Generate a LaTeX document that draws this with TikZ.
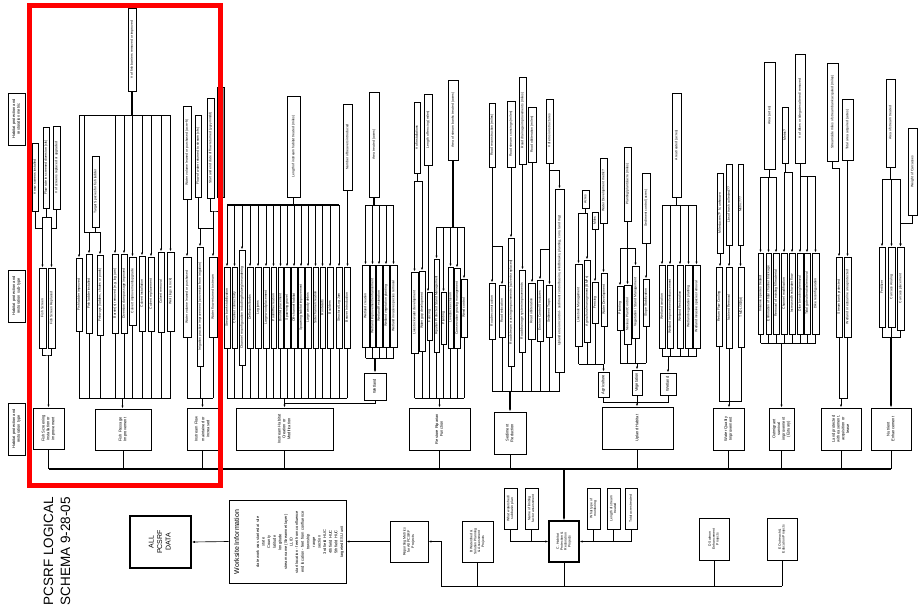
\documentclass[tikz,border=0pt]{standalone}
\usepackage{graphicx}
\usepackage{fontspec}
\setmainfont{Liberation Sans}
\usetikzlibrary{arrows.meta}

\newcommand{\vt}[1]{\rotatebox{90}{\begin{tabular}{@{}c@{}}#1\end{tabular}}}
\newcommand{\bx}[7][]{%
  \node[bx,minimum width={#5-#3},minimum height={#6-#4},#1] (#2)
    at ({(#3+#5)/2},{(#4+#6)/2}) {\vt{#7}};}

\tikzset{
  bx/.style={draw, line width=0.9pt, inner sep=0pt, fill=white,
    font=\fontsize{3.4}{3.9}\selectfont},
  typ/.style={font=\fontsize{4}{4.8}\selectfont},
  arr/.style={-{Latex[length=3pt,width=2.2pt]}},
  fat/.style={line width=1.3pt},
}

\begin{document}
\begin{tikzpicture}[x=1pt,y=-1pt,line width=0.65pt]
\useasboundingbox (0,0) rectangle (924,614);

% row captions
\bx[typ]{lMet}{8}{93}{25}{145}{Habitat protection and\\restoration metric}
\bx[typ]{lSub}{8}{270}{25}{322}{Habitat protection and\\restoration sub-type}
\bx[typ]{lTyp}{8}{403}{25}{455}{Habitat protection and\\restoration type}

% type level
\bx[typ]{tFS}{33}{408}{64}{449}{Fish Screening\\installation or\\improvement}
\bx[typ]{tFP}{95}{409}{151}{450}{Fish Passage\\Improvement}
\bx[typ]{tIF}{187}{408}{218}{450}{Instream Flow\\[2pt]maintained or\\increased}
\bx[typ]{tIH}{236}{408}{333}{450}{Instream Habitat\\Creation or\\Modification}
\bx[typ]{tRF}{409}{408}{470}{450}{Restore Riparian\\Function}
\bx[typ]{tSR}{494}{412}{526}{454}{Sediment\\Reduction}
\bx[typ]{tUH}{602}{407}{673}{449}{Upland Habitat}
\bx[typ]{tWQ}{713}{408}{744}{450}{Water Quality\\Improvement}
\bx[typ]{tOS}{769}{408}{794}{450}{Outmigrant\\survival\\improvement\\(Estuary)}
\bx[typ]{tLP}{821}{408}{861}{450}{Land protected\\with easement,\\acquisition or\\lease}
\bx[typ]{tNE}{871}{408}{911}{450}{Nutrient\\Enhancement}

\coordinate (bus) at (48.5,469);
\draw[fat] (bus) -- (bus -| tNE.south);
\foreach \n in {tFS,tFP,tIF,tIH,tRF,tSR,tUH,tWQ,tOS,tLP,tNE}
  \draw (\n.south) -- (\n.south |- bus);

% project level
\bx{boxB}{462}{521}{493}{562}{B Watershed \&\\Solution Planning\\\& Assessment\\Projects}
\bx[fat]{boxC}{549}{521}{579}{562}{C. Habitat\\Protection \&\\Restoration\\Projects}
\bx{boxD}{699}{518}{729}{560}{D Salmon\\Enhancement\\Projects}
\bx{boxE}{767}{518}{797}{560}{E Outreach \&\\Education Projects}
\bx{cA}{504}{488}{517}{529}{What watershed/\\subbasin plan}
\bx{cB}{525}{488}{538}{529}{Name of limiting\\factor assessment}
\bx{cC}{587}{488}{600}{529}{What type of\\monitoring}
\bx{cD}{607}{488}{620}{529}{Length of stream\\treated}
\bx{cE}{625}{488}{637}{529}{Total acres treated}
\draw[arr,fat] (bus -| boxC.north) -- (boxC.north);
\draw[arr] (cA.south) |- (boxC.west);
\draw (cB.south) -- (cB.south |- boxC.west);
\draw[arr] (cE.south) |- (boxC.east);
\draw (cC.south) -- (cC.south |- boxC.east);
\draw (cD.south) -- (cD.south |- boxC.east);
\coordinate (pB) at (441,586);
\draw (pB) -- (pB -| boxE.south);
\foreach \n in {boxB,boxC,boxD,boxE} \draw (\n.south) -- (\n.south |- pB);

\bx[font=\fontsize{3.6}{4.2}\selectfont]{rep}{390}{521}{428}{562}{Reporting Metrics\\for All PCSRF\\Projects}
\draw[arr] (pB) |- (rep.east);
\node[bx, minimum width=117, minimum height=83] (wk) at (287.5,541.5) {};
\node[rotate=90, font=\fontsize{7}{8}\selectfont] (wkT) at (236.5,542) {Worksite Information};
\node[rotate=90, align=center, font=\fontsize{4}{5.6}\selectfont] (wkL) at (300,542)
  {date work was started at site\\state\\County\\latitude\\longitude\\stream name (Streamnet layer)\\LLID\\start location - feet from confluence\\end location - feet from confluence\\township\\range\\section\\3rd field HUC\\4th field HUC\\5th field HUC\\targeted ESU unit};
\draw[arr] (rep.west) -- (wk.east);
\bx[line width=1.6pt, font=\fontsize{7}{8.5}\selectfont]{all}{130}{516}{191}{568}{ALL\\PCSRF\\DATA}
\draw[arr] (wk.west) -- (all.east);
\node[rotate=90, align=left, font=\fontsize{13.5}{17}\selectfont] (ttl) at (57,551) {PCSRF LOGICAL\\SCHEMA 9-28-05};

% fish screening
\bx{mFS1}{32}{143}{38}{211}{\# new screens installed}
\bx{mFS2}{43}{127}{49}{208}{Flow rate in screened diversion (cfs)}
\bx{mFS3}{53}{126}{60}{209}{\# of screens replaced or upgraded}
\bx{sFS1}{39}{268}{46}{348}{Fish Screen}
\bx{sFS2}{48}{268}{55}{348}{Fish Screen Replaced}
\coordinate (kFS) at (42.5,228);
\coordinate (kFSb) at (51.5,217);
\coordinate (jFS) at (48.5,355);
\draw (mFS1.south) |- (kFS);
\draw (mFS2.south) |- (kFSb);
\draw (mFS2.south |- kFSb) -- (kFSb -| kFS);
\draw (mFS3.south) |- (kFS -| kFSb);
\draw[arr] (kFSb -| kFS) -- (sFS1.north);
\draw[arr] (kFSb) -- (sFS2.north);
\draw (sFS1.south) |- (jFS) -| (sFS2.south);
\draw[arr] (jFS) -- (tFS.north);

% fish passage
\bx{mFP}{128}{8}{136}{91}{\# of fish barriers removed or improved}
\bx{mFPt}{92}{156}{99}{227}{Target Species for fish ladder}
\bx{sFP1}{76}{258}{82}{331}{Fish ladder improved}
\bx{sFP2}{86}{254}{92}{333}{Fish ladder installed}
\bx{sFP3}{97}{255}{103}{335}{Fishways (ladders, chutes or pools)}
\bx{sFP4}{112}{254}{118}{333}{Barrier(s) removed (e.g. log jam)}
\bx{sFP5}{121}{254}{127}{333}{Diversion dam passage improved}
\bx{sFP6}{129}{257}{136}{325}{Culvert improvement/upgrade}
\bx{sFP7}{139}{256}{145}{331}{Culvert installation}
\bx{sFP8}{148}{257}{154}{331}{Culvert replacement}
\bx{sFP9}{158}{252}{164}{332}{Culvert removal}
\bx{sFP10}{167}{252}{174}{331}{Weir (logs \& rock)}
\coordinate (kFP) at (79,115);
\coordinate (kFPt) at (84,232);
\draw[fat] (mFP.south) -- (mFP.south |- kFP);
\draw (kFP) -- (kFP -| sFP10.north);
\foreach \i in {1,4,5,6,7,8,9,10} \draw[arr] (kFP -| sFP\i.north) -- (sFP\i.north);
\draw[arr] (kFP -| kFPt) -- (kFPt) -| (sFP3.north);
\draw[arr] (kFPt -| sFP2.north) -- (sFP2.north);
\draw (mFPt.south) -- (mFPt.south |- kFPt);
\coordinate (jFP) at (122.5,398);
\foreach \i in {1,...,10} \draw (sFP\i.south) -- (sFP\i.south |- jFP);
\draw (sFP1.south |- jFP) -- (sFP10.south |- jFP);
\draw[arr] (jFP) -- (jFP |- tFP.north);

% instream flow
\bx{mIF1}{183}{106}{191}{199}{Water volume leased or purchased (acre-ft)}
\bx{mIF2}{195}{115}{201}{197}{Flow of water returned to stream (cfs)}
\bx{mIF3}{207}{98}{214}{198}{Start and end date of flow returned (yyyymmdd)}
\node[bx, fill=black!45, minimum width=7, minimum height=110] (mIF4) at (220.5,142) {};
\bx{sIF1}{183}{257}{191}{337}{Water volume leased or purchased}
\bx{sIF2}{197}{247}{203}{366}{Irrigation practice improvement (conversion from irrigation)}
\bx{sIF3}{209}{257}{217}{337}{Water flow returned to stream}
\draw[arr] (mIF1.south) -- (sIF1.north);
\coordinate (kIF) at (200,228);
\coordinate (kIF2) at (213,211);
\draw (mIF2.south) |- (kIF);
\draw[arr] (kIF) -- (sIF2.north);
\draw[arr] (kIF) -| (sIF3.north);
\draw (mIF3.south) |- (kIF2) -| (mIF4.south);
\draw (kIF2) -- (kIF2 |- kIF);
\coordinate (jIF) at (202.5,398);
\foreach \i in {1,2,3} \draw (sIF\i.south) -- (sIF\i.south |- jIF);
\draw (sIF1.south |- jIF) -- (sIF3.south |- jIF);
\draw[arr] (jIF) -- (tIF.north);

% instream habitat
\bx{mIH}{287}{96}{300}{197}{Length of instream habitat treated (miles)}
\bx{mIHb}{343}{104}{352}{190}{Number of beavers introduced}
\bx{sIH1}{224}{267}{230}{348}{Stream bank stabilization}
\bx{sIH2}{232}{267}{237}{348}{Channel connectivity}
\bx{sIH3}{239}{250}{245}{365}{Channel reconfiguration including thalweg/meandering}
\bx{sIH4}{247}{267}{253}{348}{Deflectors/barbs}
\bx{sIH5}{255}{267}{261}{348}{Log jams}
\bx{sIH6}{263}{267}{269}{348}{Large wood placement}
\bx{sIH7}{271}{267}{276}{348}{Pool/riffle creation}
\bx{sIH8}{278}{267}{283}{348}{Boulder placement}
\bx{sIH9}{284}{267}{290}{348}{Spawning gravel}
\bx{sIH10}{291}{267}{297}{348}{Off-channel habitat}
\bx{sIH11}{298}{267}{304}{348}{Spawning habitat improvement}
\bx{sIH12}{305}{267}{311}{348}{Large woody debris}
\bx{sIH13}{313}{267}{318}{348}{Side channel creation}
\bx{sIH14}{320}{267}{325}{348}{Rootwads}
\bx{sIH15}{327}{267}{333}{348}{Boulders}
\bx{sIH16}{336}{267}{342}{348}{Structural Log Jam}
\bx{sIH17}{344}{267}{350}{348}{Beaver Introduction}
\coordinate (kIH) at (293.5,205);
\draw[fat] (mIH.south) -- (kIH);
\draw[fat] (kIH -| sIH1.north) -- (kIH -| sIH16.north);
\foreach \i in {1,...,16} \draw[arr] (kIH -| sIH\i.north) -- (sIH\i.north);
\draw[arr] (mIHb.south) -- (mIHb.south |- sIH17.north);
\coordinate (jIH) at (284.5,398);
\coordinate (jIHw) at (284.5,403);
\foreach \i in {1,...,17} \draw (sIH\i.south) -- (sIH\i.south |- jIH);
\draw (sIH1.south |- jIH) -- (sIH17.south |- jIH);
\draw[arr,fat] (jIH) -- (tIH.north);

% wetland (instream)
\bx{mIW}{369}{92}{379}{197}{Area treated (acres)}
\bx{sIW1}{362}{265}{369}{347}{Wetland creation}
\bx{sIW2}{370}{265}{375}{347}{Wetland improvement/enhancement}
\bx{sIW3}{376}{265}{382}{347}{Wetland Restoration}
\bx{sIW4}{383}{265}{389}{347}{Wetland vegetation planting}
\bx{sIW5}{390}{265}{397}{347}{Wetland invasive species removal}
\bx[typ]{wIH}{364}{373}{386}{400}{Wetland}
\coordinate (kIW) at (374,205);
\draw[fat] (mIW.south) -- (kIW);
\draw (kIW -| sIW1.north) -- (kIW -| sIW5.north);
\foreach \i in {1,...,5} \draw[arr] (kIW -| sIW\i.north) -- (sIW\i.north);
\coordinate (jIW) at (375,358);
\foreach \i in {1,...,5} \draw (sIW\i.south) -- (sIW\i.south |- jIW);
\draw (sIW1.south |- jIW) -- (sIW5.south |- jIW);
\draw[arr,fat] (jIW) -- (wIH.north);
\draw (wIH.south) |- (jIHw);

% riparian function
\bx{mRF1}{414}{102}{420}{173}{\# of installations}
\bx{mRF2}{424}{94}{432}{165}{Length of fencing (miles)}
\bx{mRF3}{448}{80}{458}{160}{Area of stream banks treated (acres)}
\bx{sRF1}{411}{272}{418}{353}{Livestock water development}
\bx{sRF2}{419}{271}{425}{351}{Water gap development}
\bx{sRF3}{427}{292}{432}{340}{Fencing}
\bx{sRF4}{434}{259}{439}{352}{Riparian Protected Stand Management}
\bx{sRF5}{441}{292}{446}{344}{Planting}
\bx{sRF6}{448}{267}{453}{348}{Livestock exclusion}
\bx{sRF7}{454}{268}{460}{348}{Conservation grazing management}
\bx{sRF8}{461}{279}{467}{337}{Weed control}
\coordinate (kRF1) at (417,181);
\coordinate (kRF3) at (453,227);
\draw (mRF1.south) -- (kRF1);
\draw (kRF1 -| sRF1.north) -- (kRF1 -| sRF2.north);
\foreach \i in {1,2} \draw[arr] (kRF1 -| sRF\i.north) -- (sRF\i.north);
\draw[arr] (mRF2.south) -- (mRF2.south |- sRF3.north);
\draw[fat] (mRF3.south) -- (kRF3);
\draw (kRF3 -| sRF4.north) -- (kRF3 -| sRF8.north);
\foreach \i in {4,...,8} \draw[arr] (kRF3 -| sRF\i.north) -- (sRF\i.north);
\coordinate (jRF) at (439.5,398);
\foreach \i in {1,...,8} \draw (sRF\i.south) -- (sRF\i.south |- jRF);
\draw (sRF1.south |- jRF) -- (sRF8.south |- jRF);
\draw[arr] (jRF) -- (tRF.north);

% sediment reduction
\bx{mSR1}{489}{103}{495}{167}{Road reconstruction (miles)}
\bx{mSR2}{507}{101}{515}{167}{Road stream crossings (miles)}
\bx{mSR3}{519}{77}{526}{164}{Road drainage improvements (miles)}
\bx{mSR4}{528}{107}{536}{162}{Road obliteration (miles)}
\bx{mSR5}{546}{99}{553}{163}{\# of erosion structures}
\bx{sSR1}{489}{283}{495}{339}{Road reconstruction}
\bx{sSR2}{499}{285}{505}{337}{Road relocation}
\bx{sSR3}{508}{238}{514}{366}{Road stream crossing improvements (culverts replaced)}
\bx{sSR4}{519}{270}{525}{352}{Road drainage system improvements}
\bx{sSR5}{528}{283}{535}{339}{Road obliteration}
\bx{sSR6}{537}{280}{543}{341}{Erosion Control Structures}
\bx{sSR7}{546}{285}{552}{337}{Sediment Traps}
\bx{sSR8}{555}{189}{564}{372}{Upland erosion control - sediment control basins, windbreaks, planting, cons. land mgt.}
\coordinate (kSR1) at (492,246);
\coordinate (kSR5) at (549.5,249);
\draw (mSR1.south) -- (kSR1);
\draw[arr] (kSR1) -- (sSR1.north);
\draw[arr] (kSR1) -| (sSR2.north);
\draw[arr] (mSR2.south) -- (mSR2.south |- sSR3.north);
\draw[arr] (mSR3.south) -- (mSR3.south |- sSR4.north);
\draw[arr] (mSR4.south) -- (mSR4.south |- sSR5.north);
\draw (mSR5.south) -- (kSR5);
\draw[arr] (kSR5) -- (kSR5 |- sSR7.north);
\draw[arr] (kSR5) -| (sSR6.north);
\draw[arr] (mSR5.south) -- ++(0,7) -| (sSR8.north);
\coordinate (jSR) at (510,391);
\foreach \i in {1,...,8} \draw (sSR\i.south) -- (sSR\i.south |- jSR);
\draw (sSR1.south |- jSR) -- (sSR8.south |- jSR);
\draw[arr,fat] (jSR) -- (tSR.north);

% upland: agriculture
\bx{mUA1}{582}{190}{589}{208}{Acres}
\bx{mUA2}{592}{212}{598}{229}{Miles}
\bx{mUA3}{600}{158}{607}{223}{Water Development metric?}
\bx{sUA1}{575}{264}{582}{346}{Livestock Management}
\bx{sUA2}{584}{260}{590}{342}{Agricultural management (BMPs)}
\bx{sUA3}{592}{282}{598}{323}{Fencing}
\bx{sUA4}{601}{273}{607}{326}{Water Development}
\bx[typ]{aUA}{598}{372}{609}{397}{Agriculture}
\coordinate (kUA) at (585.5,213);
\draw (mUA1.south) -- (kUA);
\draw (kUA -| sUA1.north) -- (kUA -| sUA2.north);
\foreach \i in {1,2} \draw[arr] (kUA -| sUA\i.north) -- (sUA\i.north);
\draw[arr] (mUA2.south) -- (sUA3.north);
\draw[arr] (mUA3.south) -- (mUA3.south |- sUA4.north);
\coordinate (jUA) at (603.5,364);
\foreach \i in {1,...,4} \draw (sUA\i.south) -- (sUA\i.south |- jUA);
\draw (sUA1.south |- jUA) -- (sUA4.south |- jUA);
\draw[arr] (jUA) -- (aUA.north);

% upland: vegetation
\bx{mUV1}{624}{147}{631}{221}{Planting/plants/acre (miles)}
\bx{mUV2}{642}{173}{650}{243}{Sediment control (acres)}
\bx{sUV1}{617}{286}{623}{330}{Planting}
\bx{sUV2}{624}{285}{631}{344}{Noxious Plant Control}
\bx{sUV3}{632}{266}{639}{338}{Vegetation / Stand Management}
\bx{sUV4}{643}{279}{649}{326}{Slope Stabilization}
\bx[typ]{aUV}{632}{370}{642}{395}{Vegetation}
\coordinate (kUV) at (627.5,248);
\draw[fat] (mUV1.south) -- (kUV);
\draw (kUV -| sUV1.north) -- (kUV -| sUV3.north);
\foreach \i in {1,2,3} \draw[arr] (kUV -| sUV\i.north) -- (sUV\i.north);
\draw[arr] (mUV2.south) -- (mUV2.south |- sUV4.north);
\coordinate (jUV) at (637,363);
\foreach \i in {1,...,4} \draw (sUV\i.south) -- (sUV\i.south |- jUV);
\draw (sUV1.south |- jUV) -- (sUV4.south |- jUV);
\draw[arr] (jUV) -- (aUV.north);

% upland: wetland
\bx{mUW}{672}{93}{681}{197}{Area treated (acres)}
\bx{sUW1}{659}{265}{665}{348}{Wetland creation}
\bx{sUW2}{667}{265}{673}{348}{Wetland improvement/enhancement}
\bx{sUW3}{677}{265}{683}{348}{Wetland Restoration}
\bx{sUW4}{685}{265}{692}{348}{Wetland vegetation planting}
\bx{sUW5}{693}{265}{700}{348}{Wetland invasive species removal}
\bx[typ]{aUW}{660}{373}{676}{395}{Wetland}
\coordinate (kUW) at (676.5,205);
\draw (mUW.south) -- (kUW);
\draw (kUW -| sUW1.north) -- (kUW -| sUW5.north);
\foreach \i in {1,...,5} \draw[arr] (kUW -| sUW\i.north) -- (sUW\i.north);
\coordinate (jUW) at (668,356);
\foreach \i in {1,...,5} \draw (sUW\i.south) -- (sUW\i.south |- jUW);
\draw (sUW1.south |- jUW) -- (sUW5.south |- jUW);
\draw[arr] (jUW) -- (aUW.north);
\coordinate (jUH) at (637,402);
\draw (aUA.south) |- (aUW.south |- jUH) -- (aUW.south);
\draw[arr] (aUV.south) -- (aUV.south |- tUH.north);

% water quality
\bx{mWQ1}{717}{173}{723}{253}{Miles/acres?? N, unknown}
\bx{mWQ2}{726}{164}{732}{245}{Lbs of trash collected??}
\bx{mWQ3}{738}{164}{743}{245}{Metric???}
\bx{sWQ1}{716}{267}{722}{346}{Return Flow Cooling}
\bx{sWQ2}{726}{267}{732}{348}{Nutrient Removal}
\bx{sWQ3}{738}{267}{744}{347}{TMDL/303(d)}
\foreach \i in {1,2,3} \draw[arr] (mWQ\i.south) -- (mWQ\i.south |- sWQ\i.north);
\coordinate (jWQ) at (729,401);
\draw (sWQ1.south) |- (sWQ3.south |- jWQ) -- (sWQ3.south);
\draw[arr] (sWQ2.south) -- (sWQ2.south |- tWQ.north);

% outmigrant survival
\bx{mOS1}{764}{62}{775}{169}{Area (acres)}
\bx{mOS2}{782}{107}{788}{163}{Metric?}
\bx{mOS3}{795}{54}{805}{163}{\# of dikes or tidegates altered/ removed}
\bx{sOS1}{758}{253}{763}{334}{Invasive species treated}
\bx{sOS2}{766}{253}{771}{334}{Elimination of tidal channel blockage}
\bx{sOS3}{773}{253}{779}{334}{Removal of existing fill material}
\bx{sOS4}{781}{253}{787}{334}{Channel modification}
\bx{sOS5}{789}{253}{795}{334}{Increased freshwater flow}
\bx{sOS6}{797}{253}{803}{334}{Dike breaching/removal}
\bx{sOS7}{804}{253}{810}{334}{Tidal gate alteration/removal}
\bx{sOS8}{812}{253}{819}{334}{Dike reconfiguration}
\coordinate (kOS1) at (769.5,177);
\coordinate (kOS2) at (785,172);
\coordinate (kOS3) at (800,176);
\draw (mOS1.south) -- (kOS1);
\draw (kOS1 -| sOS1.north) -- (kOS1 -| sOS3.north);
\foreach \i in {1,2,3} \draw[arr] (kOS1 -| sOS\i.north) -- (sOS\i.north);
\draw (mOS2.south) -- (kOS2);
\draw (kOS2 -| sOS4.north) -- (kOS2 -| sOS5.north);
\foreach \i in {4,5} \draw[arr] (kOS2 -| sOS\i.north) -- (sOS\i.north);
\draw (mOS3.south) -- (kOS3);
\draw (kOS3 -| sOS6.north) -- (kOS3 -| sOS8.north);
\foreach \i in {6,7,8} \draw[arr] (kOS3 -| sOS\i.north) -- (sOS\i.north);
\coordinate (jOS) at (781.5,343);
\foreach \i in {1,...,8} \draw (sOS\i.south) -- (sOS\i.south |- jOS);
\draw (sOS1.south |- jOS) -- (sOS8.south |- jOS);
\draw[arr,fat] (jOS) -- (tOS.north);

% land protected
\bx{mLP1}{827}{63}{838}{161}{Streamside miles of streambank acquired (miles)}
\bx{mLP2}{842}{99}{853}{160}{Total area acquired (acres)}
\bx{sLP1}{836}{257}{842}{337}{Stream bank protected}
\bx{sLP2}{844}{257}{851}{337}{Wetland or estuarine area protected}
\draw[arr] (mLP1.south) -- ++(0,7) -| (sLP1.north);
\draw[arr] (mLP2.south) -- (mLP2.south |- sLP2.north);
\coordinate (jLP) at (841,398);
\draw (sLP1.south) |- (sLP2.south |- jLP) -- (sLP2.south);
\draw[arr] (jLP) -- (tLP.north);

% nutrient enhancement
\bx{mNE1}{886}{79}{895}{167}{Area of stream treated}
\bx{mNE2}{908}{128}{917}{215}{Weight of Carcasses}
\bx{sNE1}{879}{247}{885}{327}{Fertilizer}
\bx{sNE2}{888}{247}{895}{327}{Carcass Analog}
\bx{sNE3}{897}{247}{904}{330}{Carcass placement}
\coordinate (kNE) at (890.5,179);
\draw (mNE1.south) -- (kNE);
\draw (kNE -| sNE1.north) -- (kNE -| sNE3.north);
\foreach \i in {1,2,3} \draw[arr] (kNE -| sNE\i.north) -- (sNE\i.north);
\draw[arr,fat] (mNE2.south) -- ++(0,8) -| (sNE3.north);
\coordinate (jNE) at (891,337);
\foreach \i in {1,2,3} \draw (sNE\i.south) -- (sNE\i.south |- jNE);
\draw (sNE1.south |- jNE) -- (sNE3.south |- jNE);
\draw[arr,fat] (jNE) -- (tNE.north);

% highlight frame
\draw[red, line width=5pt] (29.5,5.5) rectangle (220,485.5);
\end{tikzpicture}
\end{document}
